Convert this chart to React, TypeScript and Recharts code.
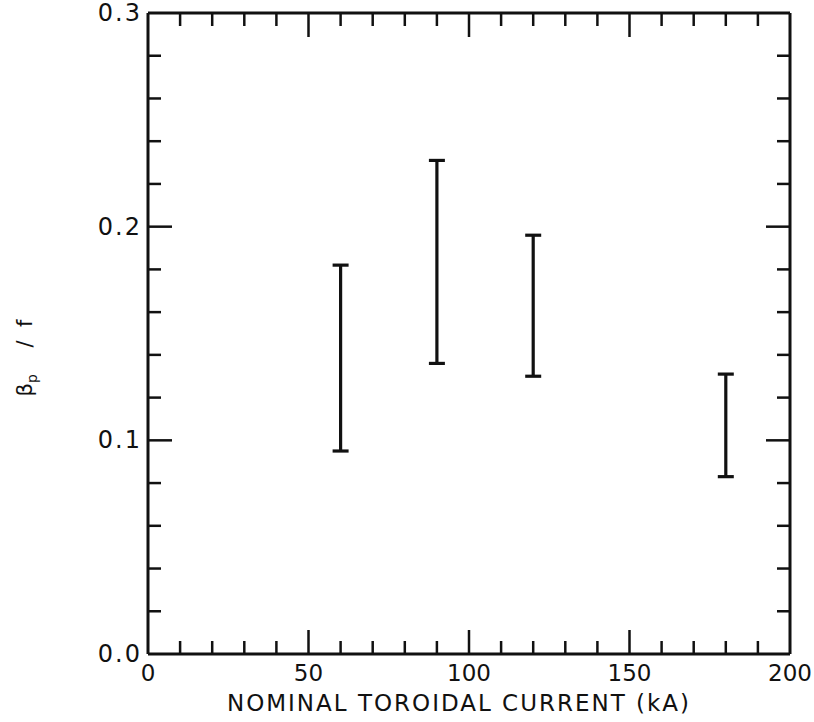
import React from "react";
import { ComposedChart, Scatter, ErrorBar, XAxis, YAxis } from "recharts";

// nominal toroidal current (kA) and the low / high end of each bar
const currents = [60, 90, 120, 180];
const lows = [0.095, 0.136, 0.13, 0.083];
const highs = [0.182, 0.231, 0.196, 0.131];

const xTicks = [0, 10, 20, 30, 40, 50, 60, 70, 80, 90, 100, 110, 120, 130, 140, 150, 160, 170, 180, 190, 200];
const xLabels = [0, 50, 100, 150, 200];
const yTicks = [0, 0.02, 0.04, 0.06, 0.08, 0.1, 0.12, 0.14, 0.16, 0.18, 0.2, 0.22, 0.24, 0.26, 0.28, 0.3];
const yLabels = ["0.0", "0.1", "0.2", "0.3"];

const FONT = "'DejaVu Sans', sans-serif";
const INK = "#111";

const data = currents.map((c, i) => {
  const mid = (lows[i] + highs[i]) / 2;
  return { x: c, y: mid, err: [mid - lows[i], highs[i] - mid] };
});

const isMajorX = (v: number) => v % 50 === 0;
const isMajorY = (v: number) => Math.abs(v * 10 - Math.round(v * 10)) < 1e-6;

function makeXTick(side: "bottom" | "top") {
  return (props: any) => {
    const { x, y, payload } = props;
    const v = payload.value;
    const len = isMajorX(v) ? 24 : 13;
    const dir = side === "bottom" ? -1 : 1;
    const showLabel = side === "bottom" && xLabels.includes(v);
    return (
      <g>
        {v !== 0 && v !== 200 && (
          <line x1={x} x2={x} y1={y} y2={y + dir * len} stroke={INK} strokeWidth={2.5} />
        )}
        {showLabel && (
          <text x={x} y={y + 27} textAnchor="middle" fontFamily={FONT} fontSize={23} fill={INK}>
            {v}
          </text>
        )}
      </g>
    );
  };
}

function makeYTick(side: "left" | "right") {
  return (props: any) => {
    const { x, y, payload } = props;
    const v = payload.value;
    const len = isMajorY(v) ? 24 : 13;
    const dir = side === "left" ? 1 : -1;
    const idx = Math.round(v * 10);
    const showLabel = side === "left" && isMajorY(v);
    return (
      <g>
        {v !== 0 && v !== 0.3 && (
          <line x1={x} x2={x + dir * len} y1={y} y2={y} stroke={INK} strokeWidth={2.5} />
        )}
        {showLabel && (
          <text x={x - 6} y={y + 8} textAnchor="end" fontFamily={FONT} fontSize={24} fill={INK} letterSpacing={2}>
            {yLabels[idx]}
          </text>
        )}
      </g>
    );
  };
}

function YTitle() {
  return (
    <text
      transform="translate(32, 358) rotate(-90)"
      textAnchor="middle"
      fontFamily={FONT}
      fontSize={21}
      fill={INK}
      style={{ whiteSpace: "pre" }}
    >
      β<tspan fontSize={14} dy={5}>p</tspan>
      <tspan dy={-5}>{"    /  f"}</tspan>
    </text>
  );
}

const axisCommon = {
  type: "number" as const,
  interval: 0 as const,
  tickSize: 0,
  tickMargin: 0,
  tickLine: false,
  axisLine: { stroke: INK, strokeWidth: 3 },
  allowDataOverflow: true,
};

export default function App() {
  return (
    <div style={{ position: "absolute", left: 0, top: 0, width: 814, height: 722, background: "#fff" }}>
      <ComposedChart width={814} height={722} data={data} margin={{ top: 12, right: 23, bottom: 67, left: 147 }}>
        <XAxis {...axisCommon} xAxisId="b" dataKey="x" domain={[0, 200]} ticks={xTicks} tick={makeXTick("bottom")} height={1} />
        <XAxis {...axisCommon} xAxisId="t" orientation="top" dataKey="x" domain={[0, 200]} ticks={xTicks} tick={makeXTick("top")} height={1} />
        <YAxis {...axisCommon} yAxisId="l" dataKey="y" domain={[0, 0.3]} ticks={yTicks} tick={makeYTick("left")} width={1} />
        <YAxis {...axisCommon} yAxisId="r" orientation="right" dataKey="y" domain={[0, 0.3]} ticks={yTicks} tick={makeYTick("right")} width={1} />
        <Scatter xAxisId="b" yAxisId="l" data={data} dataKey="y" shape={() => <g />} isAnimationActive={false}>
          <ErrorBar dataKey="err" direction="y" width={8} stroke={INK} strokeWidth={3.2} isAnimationActive={false} />
        </Scatter>
        {/* invisible series so the top and right axes get their ticks */}
        <Scatter xAxisId="t" yAxisId="r" data={data} dataKey="y" shape={() => <g />} isAnimationActive={false} />
      </ComposedChart>
      <svg width={814} height={722} style={{ position: "absolute", left: 0, top: 0, pointerEvents: "none" }}>
        <YTitle />
        <text x={459} y={711} textAnchor="middle" fontFamily={FONT} fontSize={23} fill={INK} letterSpacing={2}>
          NOMINAL TOROIDAL CURRENT (kA)
        </text>
      </svg>
    </div>
  );
}
